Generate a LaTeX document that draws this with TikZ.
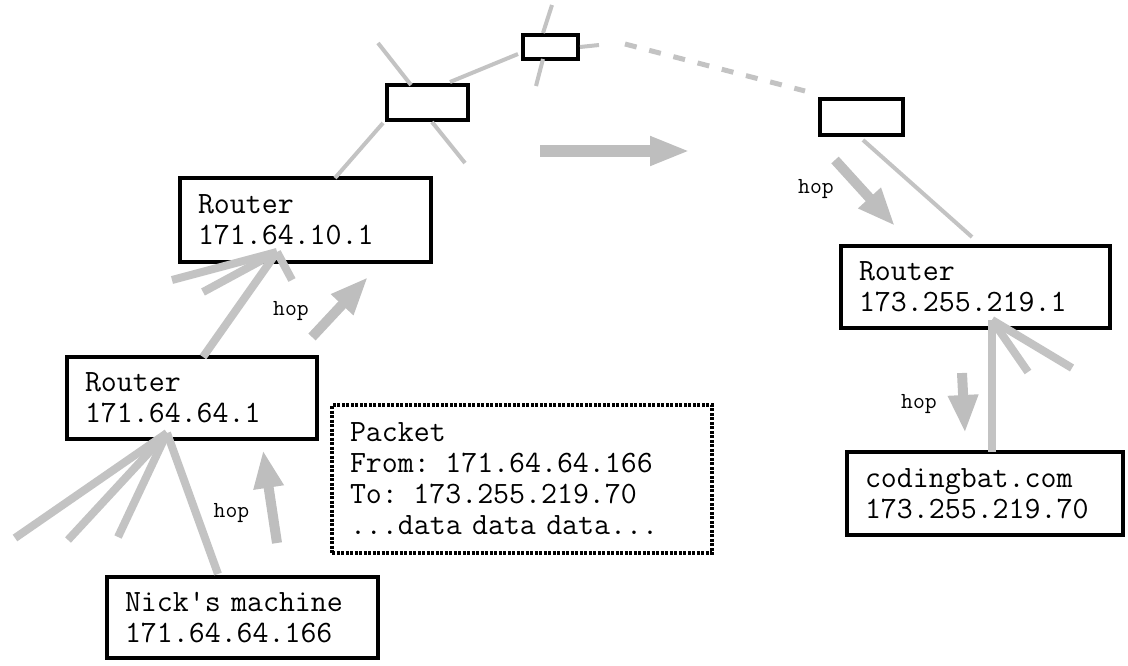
\documentclass[tikz,border=0pt]{standalone}
\usepackage{fontspec}
\usetikzlibrary{arrows.meta}
\definecolor{lgray}{RGB}{195,195,195}
\definecolor{agray}{RGB}{190,190,190}
\begin{document}
\begin{tikzpicture}[x=1pt,y=-1pt,
  box/.style={draw=black, line width=4pt, fill=white, inner xsep=18pt, inner ysep=0pt, align=left, font=\fontsize{31}{31}\selectfont\ttfamily},
  sbox/.style={draw=black, line width=4pt, fill=white, inner sep=0pt},
  pkt/.style={draw=black, line width=3.5pt, dash pattern=on 3pt off 1.5pt, fill=white, inner xsep=18pt, inner ysep=0pt, align=left, font=\fontsize{31}{31}\selectfont\ttfamily},
  thinln/.style={draw=lgray, line width=4pt},
  thickln/.style={draw=lgray, line width=8pt},
  hoparr/.style={draw=agray, line width=10pt, -{Triangle[length=38pt,width=28pt]}},
  hoplbl/.style={font=\fontsize{23}{23}\selectfont\ttfamily, inner sep=0pt, anchor=base}
]
\useasboundingbox (0,0) rectangle (1128,665);

% boxes
\node[box, minimum width=251pt, minimum height=84pt, text width=215pt] (r1) at (305.5,220) {Router\\171.64.10.1};
\node[box, minimum width=250pt, minimum height=82pt, text width=214pt] (r2) at (192,398) {Router\\171.64.64.1};
\node[box, minimum width=271pt, minimum height=81pt, text width=235pt] (nick) at (242.5,617.5) {Nick's machine\\171.64.64.166};
\node[box, minimum width=269pt, minimum height=82pt, text width=233pt] (r3) at (975.5,287) {Router\\173.255.219.1};
\node[box, minimum width=276pt, minimum height=83pt, text width=240pt] (cb) at (985,493.5) {codingbat.com\\173.255.219.70};
\node[pkt, minimum width=380pt, minimum height=148pt, text width=344pt] (pk) at (522,479) {Packet\\From: 171.64.64.166\\To: 173.255.219.70\\...data data data...};

\node[sbox, minimum width=81pt, minimum height=35pt] (a) at (427.5,102.5) {};
\node[sbox, minimum width=55pt, minimum height=24pt] (b) at (550.5,47) {};
\node[sbox, minimum width=83pt, minimum height=36pt] (c) at (861.5,117) {};

% coordinates
\coordinate (f1) at (277,252);
\coordinate (f2) at (167,433);
\coordinate (f3) at (992,320);
\coordinate (r1s1) at (172,280);
\coordinate (r1s2) at (203,292);
\coordinate (r1s3) at (292,280);
\coordinate (r2top) at (203,357);
\coordinate (r2s1) at (15,538);
\coordinate (r2s2) at (68,540);
\coordinate (r2s3) at (118,537);
\coordinate (nicktop) at (218,574);
\coordinate (r3s1) at (1028,372);
\coordinate (r3s2) at (1072,368);
\coordinate (cbtop) at (992,452);
\coordinate (r1top) at (335,178);
\coordinate (abl) at (383,123);
\coordinate (aul) at (378,43);
\coordinate (aut) at (411,85);
\coordinate (abr1) at (432,122);
\coordinate (abr2) at (465,163);
\coordinate (atr) at (450,82);
\coordinate (bl) at (518,54);
\coordinate (bt1) at (552,5);
\coordinate (bt2) at (543,33);
\coordinate (bb1) at (543,59);
\coordinate (bb2) at (536,86);
\coordinate (br1) at (580,47);
\coordinate (br2) at (599,45);
\coordinate (d1) at (625,44);
\coordinate (d2) at (805,91);
\coordinate (cbot) at (863,140);
\coordinate (r3top) at (972,237);

% gray connectors
\draw[thickln] (f1) -- (r1s1);
\draw[thickln] (f1) -- (r1s2);
\draw[thickln] (f1) -- (r1s3);
\draw[thickln] (f1) -- (r2top);
\draw[thickln] (f2) -- (r2s1);
\draw[thickln] (f2) -- (r2s2);
\draw[thickln] (f2) -- (r2s3);
\draw[thickln] (f2) -- (nicktop);
\draw[thickln] (f3) -- (r3s1);
\draw[thickln] (f3) -- (r3s2);
\draw[thickln] (f3) -- (cbtop);
\draw[thinln] (r1top) -- (abl);
\draw[thinln] (aul) -- (aut);
\draw[thinln] (abr1) -- (abr2);
\draw[thinln] (atr) -- (bl);
\draw[thinln] (bt1) -- (bt2);
\draw[thinln] (bb1) -- (bb2);
\draw[thinln] (br1) -- (br2);
\draw[draw=lgray, line width=5pt, dash pattern=on 12pt off 13pt] (d1) -- (d2);
\draw[thinln] (cbot) -- (r3top);

% hop arrows
\coordinate (h1s) at (277,543); \coordinate (h1e) at (263,450);
\coordinate (h2s) at (312,337); \coordinate (h2e) at (368,277);
\coordinate (h3s) at (835,160); \coordinate (h3e) at (895,226);
\coordinate (h4s) at (962,373); \coordinate (h4e) at (965,433);
\coordinate (bas) at (540,151); \coordinate (bae) at (690,151);
\draw[hoparr] (h1s) -- (h1e);
\draw[hoparr] (h2s) -- (h2e);
\draw[hoparr] (h3s) -- (h3e);
\draw[hoparr] (h4s) -- (h4e);
\draw[draw=agray, line width=12pt, -{Triangle[length=40pt,width=27pt]}] (bas) -- (bae);

% hop labels
\node[hoplbl] (l1) at (231.5,517) {hop};
\node[hoplbl] (l2) at (291,315) {hop};
\node[hoplbl] (l3) at (816,193) {hop};
\node[hoplbl] (l4) at (919,408) {hop};
\end{tikzpicture}
\end{document}
